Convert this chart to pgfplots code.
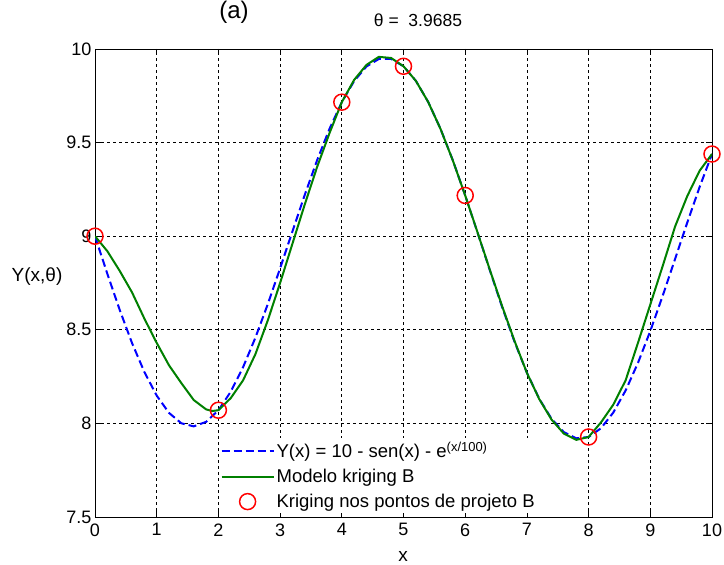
\documentclass[border=0pt]{standalone}
\usepackage{fontspec}
\setmainfont{Liberation Sans}
\usepackage{pgfplots}
\pgfplotsset{compat=1.18}
\definecolor{mblue}{RGB}{0,0,255}
\definecolor{mgreen}{RGB}{0,128,0}
\definecolor{mred}{RGB}{255,0,0}
\begin{document}
\begin{tikzpicture}[x=1pt,y=1pt]
\begin{axis}[
  at={(95pt,48pt)}, anchor=south west,
  scale only axis, width=617pt, height=468pt,
  xmin=0, xmax=10, ymin=7.5, ymax=10,
  xtick={0,1,...,10}, ytick={7.5,8,8.5,9,9.5,10},
  tick align=inside, major tick length=6pt,
  grid=major,
  grid style={black, line width=0.7pt, dash pattern=on 3pt off 3pt},
  axis line style={black, line width=0.8pt},
  tick style={black, line width=0.8pt},
  ticklabel style={font=\fontsize{18}{20}\selectfont},
  xticklabel style={yshift=-3pt},
  /pgf/number format/assume math mode=true,
  legend cell align=left,
  legend style={at={(0.2,0.008)}, anchor=south west, draw=none, fill=white,
    font=\fontsize{18.5}{21}\selectfont, inner xsep=2pt, inner ysep=2pt,
    row sep=6pt},
  legend image code/.code={\draw[mark repeat=2,mark phase=2,#1] plot coordinates {(0pt,0pt) (26pt,0pt) (52pt,0pt)};},
]
\addplot[mblue, line width=2pt, dash pattern=on 8pt off 4pt] coordinates {
(0,9.0000) (0.2,8.7993) (0.4,8.6066) (0.6,8.4293) (0.8,8.2746) (1.0,8.1485)
(1.2,8.0559) (1.4,8.0005) (1.6,7.9843) (1.8,8.0080) (2.0,8.0705) (2.2,8.1693)
(2.4,8.3003) (2.6,8.4582) (2.8,8.6366) (3.0,8.8284) (3.2,9.0259) (3.4,9.2210)
(3.6,9.4059) (3.8,9.5731) (4.0,9.7160) (4.2,9.8287) (4.4,9.9066) (4.6,9.9466)
(4.8,9.9470) (5.0,9.9077) (5.2,9.8301) (5.4,9.7173) (5.6,9.5737) (5.8,9.4049)
(6.0,9.2176) (6.2,9.0191) (6.4,8.8174) (6.6,8.6202) (6.8,8.4355) (7.0,8.2705)
(7.2,8.1317) (7.4,8.0245) (7.6,7.9531) (7.8,7.9203) (8.0,7.9274) (8.2,7.9738)
(8.4,8.0578) (8.6,8.1758) (8.8,8.3231) (9.0,8.4937) (9.2,8.6808) (9.4,8.8767)
(9.6,9.0736) (9.8,9.2635) (10.0,9.4389)};
\addlegendentry{Y(x) = 10 - sen(x) - e\textsuperscript{(x/100)}}
\addplot[mgreen, line width=2pt] coordinates {
(0,9.0000) (0.2,8.920) (0.4,8.815) (0.6,8.700) (0.8,8.560) (1.0,8.430)
(1.2,8.310) (1.4,8.215) (1.6,8.125) (1.8,8.075) (1.9,8.066) (2.0,8.0705)
(2.2,8.135) (2.4,8.230) (2.6,8.370) (2.8,8.550) (3.0,8.750) (3.2,8.960)
(3.4,9.170) (3.6,9.370) (3.8,9.550) (4.0,9.7160) (4.2,9.835) (4.4,9.915)
(4.6,9.958) (4.8,9.952) (5.0,9.9077) (5.2,9.830) (5.4,9.717) (5.6,9.573)
(5.8,9.404) (6.0,9.2176) (6.2,9.020) (6.4,8.820) (6.6,8.625) (6.8,8.440)
(7.0,8.270) (7.2,8.130) (7.4,8.020) (7.6,7.945) (7.8,7.912) (8.0,7.9274)
(8.2,8.005) (8.4,8.100) (8.6,8.230) (8.8,8.430) (9.0,8.635) (9.2,8.840)
(9.4,9.050) (9.6,9.215) (9.8,9.350) (10.0,9.4389)};
\addlegendentry{Modelo kriging B}
\addplot[only marks, mark=o, mark size=8pt, mred, line width=1.5pt] coordinates {
(0,9.0000) (2,8.0705) (4,9.7160) (5,9.9077) (6,9.2176) (8,7.9274) (10,9.4389)};
\addlegendentry{Kriging nos pontos de projeto B}
\end{axis}
\node[font=\fontsize{17.5}{20}\selectfont] at (418,545) {θ =\ \ 3.9685};
\node[font=\fontsize{19}{22}\selectfont] at (37,288) {Y(x,θ)};
\node[font=\fontsize{19}{22}\selectfont] at (403,9) {x};
\node[font=\fontsize{24}{28}\selectfont, anchor=base] at (234,546) {(a)};
\pgfresetboundingbox
\path[use as bounding box] (0,0) rectangle (724,565);
\end{tikzpicture}
\end{document}
